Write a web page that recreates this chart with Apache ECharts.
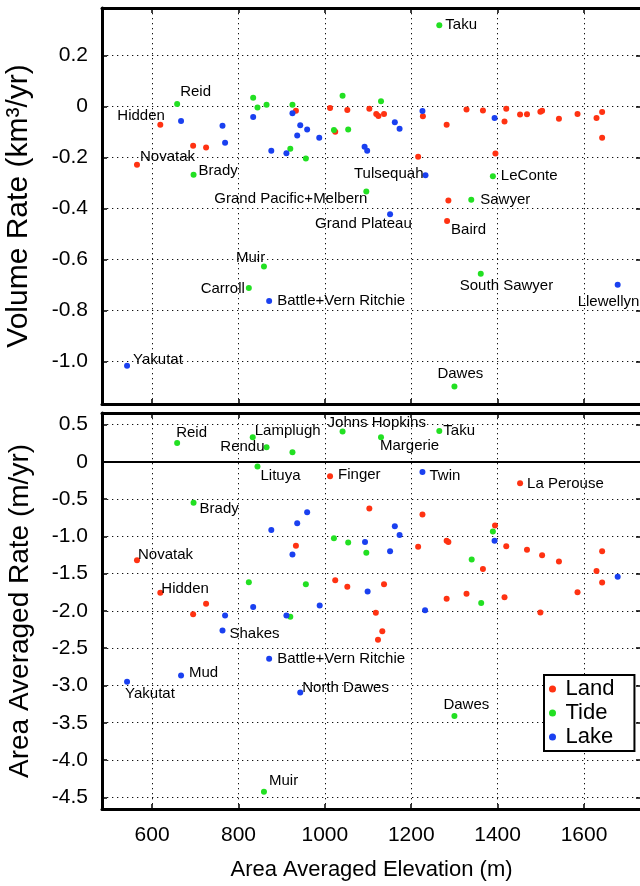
<!DOCTYPE html>
<html><head><meta charset="utf-8">
<script src="https://cdn.jsdelivr.net/npm/echarts@6/dist/echarts.min.js"></script>
<style>html,body{margin:0;padding:0;background:#fff}#c{width:640px;height:886px}</style>
</head><body><div id="c"></div>
<script>
// ---------- tick values ----------
const xTicks = [600, 800, 1000, 1200, 1400, 1600];
const volTicks = [-1.0, -0.8, -0.6, -0.4, -0.2, 0, 0.2];
const rateTicks = [-4.5, -4.0, -3.5, -3.0, -2.5, -2.0, -1.5, -1.0, -0.5, 0, 0.5];
const categories = ['Land', 'Tide', 'Lake'];

// ---------- top panel: volume rate (km3/yr) ----------
const volLandElev = [565, 619, 695, 725, 933, 1012, 1024, 1052, 1103, 1119, 1124, 1137, 1216, 1227, 1282, 1283, 1286, 1328, 1366, 1395, 1416, 1420, 1452, 1468, 1499, 1503, 1542, 1585, 1629, 1642, 1642];
const volLandRate = [-0.228, -0.071, -0.153, -0.160, -0.016, -0.005, -0.098, -0.013, -0.008, -0.029, -0.037, -0.029, -0.196, -0.038, -0.071, -0.448, -0.368, -0.011, -0.015, -0.184, -0.058, -0.008, -0.031, -0.030, -0.020, -0.016, -0.047, -0.029, -0.044, -0.021, -0.122];
const volLandName = ['Novatak', 'Hidden', '', '', '', '', '', '', '', '', '', '', '', '', '', 'Baird', '', '', '', '', '', '', '', '', '', '', '', '', '', '', ''];

const volTideElev = [658, 696, 824, 834, 844, 859, 865, 920, 925, 956, 1021, 1041, 1054, 1096, 1130, 1265, 1300, 1339, 1361, 1389];
const volTideRate = [0.011, -0.267, -0.711, 0.035, -0.003, -0.627, 0.008, -0.165, 0.008, -0.203, -0.091, 0.043, -0.089, -0.333, 0.021, 0.319, -1.097, -0.365, -0.655, -0.273];
const volTideName = ['Reid', 'Brady', 'Carroll', '', '', 'Muir', '', '', '', '', '', '', '', 'Grand Pacific+Melbern', '', 'Taku', 'Dawes', 'Sawyer', 'South Sawyer', 'LeConte'];

const volLakeElev = [542, 667, 763, 769, 834, 871, 876, 911, 925, 936, 943, 959, 987, 1092, 1098, 1151, 1162, 1173, 1226, 1233, 1393, 1678];
const volLakeRate = [-1.016, -0.056, -0.075, -0.141, -0.040, -0.762, -0.173, -0.183, -0.026, -0.113, -0.073, -0.089, -0.122, -0.157, -0.173, -0.422, -0.061, -0.087, -0.017, -0.269, -0.044, -0.698];
const volLakeName = ['Yakutat', '', '', '', '', 'Battle+Vern Ritchie', '', '', '', '', '', '', '', '', '', 'Grand Plateau', '', '', '', 'Tulsequah', '', 'Llewellyn'];

// ---------- bottom panel: area averaged rate (m/yr) ----------
const rateLandElev = [565, 619, 695, 725, 933, 1012, 1024, 1052, 1103, 1118, 1123, 1133, 1137, 1216, 1226, 1282, 1286, 1282, 1328, 1366, 1394, 1416, 1420, 1452, 1468, 1499, 1503, 1542, 1585, 1629, 1642, 1642];
const rateLandRate = [-1.319, -1.757, -2.043, -1.905, -1.127, -0.193, -1.587, -1.677, -0.626, -2.025, -2.387, -2.271, -1.641, -1.140, -0.707, -1.060, -1.074, -1.838, -1.771, -1.436, -0.854, -1.815, -1.131, -0.287, -1.180, -2.020, -1.252, -1.337, -1.748, -1.466, -1.198, -1.618];
const rateLandName = ['Novatak', 'Hidden', '', '', '', 'Finger', '', '', '', '', '', '', '', '', '', '', '', '', '', '', '', '', '', 'La Perouse', '', '', '', '', '', '', '', ''];

const rateTideElev = [658, 696, 824, 833, 844, 859, 865, 920, 925, 956, 1021, 1041, 1054, 1096, 1130, 1265, 1300, 1340, 1362, 1389];
const rateTideRate = [0.253, -0.550, -1.614, 0.330, -0.063, -4.425, 0.196, -2.079, 0.129, -1.641, -1.024, 0.406, -1.082, -1.221, 0.330, 0.414, -3.410, -1.310, -1.895, -0.935];
const rateTideName = ['Reid', 'Brady', '', 'Lamplugh', 'Lituya', 'Muir', 'Rendu', '', '', '', '', 'Johns Hopkins', '', '', 'Margerie', 'Taku', 'Dawes', '', '', ''];

const rateLakeElev = [542, 667, 763, 769, 834, 871, 876, 911, 925, 936, 943, 959, 988, 1093, 1099, 1151, 1162, 1173, 1226, 1232, 1393, 1678];
const rateLakeRate = [-2.950, -2.865, -2.262, -2.060, -1.949, -2.642, -0.913, -2.060, -1.243, -0.823, -3.093, -0.676, -1.926, -1.074, -1.738, -1.198, -0.863, -0.980, -0.135, -1.990, -1.060, -1.543];
const rateLakeName = ['Yakutat', 'Mud', 'Shakes', '', '', 'Battle+Vern Ritchie', '', '', '', '', 'North Dawes', '', '', '', '', '', '', '', 'Twin', '', '', ''];

// ---------- styling ----------
const FONT = 'Liberation Sans, Arial, Helvetica, sans-serif';
const colors = { Land: '#ff3212', Tide: '#22e022', Lake: '#1a40f0' };
// label offsets: [dx, dy, align] relative to point centre (style only)
const volLabelPos = {
  'Novatak': [3, -8, 'left'], 'Hidden': [-43, -9, 'left'], 'Baird': [4, 9, 'left'],
  'Reid': [3, -12, 'left'], 'Brady': [5, -4, 'left'], 'Carroll': [-4, 1, 'right'],
  'Muir': [-28, -9, 'left'], 'Grand Pacific+Melbern': [1, 7, 'right'], 'Taku': [6, 0, 'left'],
  'Dawes': [-17, -13, 'left'], 'Sawyer': [9, 0, 'left'], 'South Sawyer': [-21, 12, 'left'],
  'LeConte': [8, 0, 'left'], 'Yakutat': [6, -6, 'left'], 'Battle+Vern Ritchie': [8, 0, 'left'],
  'Grand Plateau': [-75, 10, 'left'], 'Tulsequah': [-2, -1, 'right'], 'Llewellyn': [-40, 17, 'left']
};
const rateLabelPos = {
  'Novatak': [1, -5, 'left'], 'Hidden': [1, -4, 'left'], 'Finger': [8, -1, 'left'], 'La Perouse': [7, 1, 'left'],
  'Reid': [-1, -10, 'left'], 'Brady': [6, 6, 'left'], 'Lamplugh': [2, -6, 'left'], 'Lituya': [3, 9, 'left'],
  'Muir': [5, -11, 'left'], 'Rendu': [-2, 0, 'right'], 'Johns Hopkins': [-15, -9, 'left'], 'Margerie': [-1, 9, 'left'],
  'Taku': [4, 0, 'left'], 'Dawes': [-11, -11, 'left'], 'Yakutat': [-2, 12, 'left'], 'Mud': [8, -3, 'left'],
  'Shakes': [7, 3, 'left'], 'Battle+Vern Ritchie': [8, 0, 'left'], 'North Dawes': [2, -5, 'left'], 'Twin': [7, 4, 'left']
};

function buildData(xs, ys, names, pos) {
  return xs.map((x, i) => {
    const n = names[i];
    const item = { value: [x, ys[i]], name: n };
    if (n) {
      const p = pos[n];
      item.label = {
        show: true, formatter: n, position: 'inside', align: p[2], verticalAlign: 'middle',
        offset: [p[0], p[1]], color: '#000', fontSize: 15, fontFamily: FONT
      };
    }
    return item;
  });
}

const fmtY = v => (Math.abs(v) < 1e-9 ? '0' : v.toFixed(1));
const fmtX = v => String(Math.round(v));
const gridLine = { show: true, lineStyle: { color: '#111', width: 1, type: [1.3, 3.7] } };
const axLine = { show: true, onZero: false, lineStyle: { color: '#000', width: 3 } };

function xAx(grid, position, showLabel) {
  return {
    type: 'value', gridIndex: grid, position: position, min: 484, max: 1732,
    axisLine: axLine,
    axisTick: { show: true, inside: true, length: 5, customValues: xTicks, lineStyle: { color: '#000', width: 1.5 } },
    axisLabel: { show: showLabel, customValues: xTicks, formatter: fmtX, margin: 16, fontSize: 21, color: '#000', fontFamily: FONT },
    splitLine: position === 'bottom' ? gridLine : { show: false },
    name: showLabel ? 'Area Averaged Elevation (m)' : '',
    nameLocation: 'middle', nameGap: 50,
    nameTextStyle: { fontSize: 22, color: '#000', fontFamily: FONT }
  };
}
function yAx(grid, position, min, max, ticks, name, titleSize) {
  const left = position === 'left';
  return {
    type: 'value', gridIndex: grid, position: position, min: min, max: max,
    axisLine: axLine,
    axisTick: { show: true, inside: true, length: 5, customValues: ticks, lineStyle: { color: '#000', width: 1.5 } },
    axisLabel: { show: left, customValues: ticks, formatter: fmtY, margin: 14, fontSize: 21, color: '#000', fontFamily: FONT },
    splitLine: left ? gridLine : { show: false },
    name: left ? name : '', nameLocation: 'middle', nameGap: 68, nameRotate: 90,
    nameTextStyle: { fontSize: titleSize || 26, color: '#000', fontFamily: FONT }
  };
}

function sc(name, x, y, data) {
  return {
    type: 'scatter', name: name, xAxisIndex: x, yAxisIndex: y, data: data,
    symbol: 'circle', symbolSize: 6, itemStyle: { color: colors[name], opacity: 1 },
    emphasis: { disabled: true }, z: 3
  };
}

const series = [
  sc('Land', 0, 0, buildData(volLandElev, volLandRate, volLandName, volLabelPos)),
  sc('Tide', 0, 0, buildData(volTideElev, volTideRate, volTideName, volLabelPos)),
  sc('Lake', 0, 0, buildData(volLakeElev, volLakeRate, volLakeName, volLabelPos)),
  sc('Land', 2, 2, buildData(rateLandElev, rateLandRate, rateLandName, rateLabelPos)),
  sc('Tide', 2, 2, buildData(rateTideElev, rateTideRate, rateTideName, rateLabelPos)),
  sc('Lake', 2, 2, buildData(rateLakeElev, rateLakeRate, rateLakeName, rateLabelPos))
];
series[3].markLine = {
  silent: true, symbol: 'none', label: { show: false }, animation: false,
  lineStyle: { color: '#000', type: 'solid', width: 2 }, data: [{ yAxis: 0 }]
};

const chart = echarts.init(document.getElementById('c'), null, { renderer: 'canvas' });
chart.setOption({
  animation: false,
  backgroundColor: '#fff',
  grid: [
    { left: 102, top: 8, width: 539, height: 396, containLabel: false, outerBoundsMode: 'none' },
    { left: 102, top: 413, width: 539, height: 396, containLabel: false, outerBoundsMode: 'none' }
  ],
  xAxis: [xAx(0, 'bottom', false), xAx(0, 'top', false), xAx(1, 'bottom', true), xAx(1, 'top', false)],
  yAxis: [
    yAx(0, 'left', -1.166, 0.387, volTicks, 'Volume Rate (km³/yr)', 30),
    yAx(0, 'right', -1.166, 0.387, volTicks, ''),
    yAx(1, 'left', -4.657, 0.655, rateTicks, 'Area Averaged Rate (m/yr)', 28),
    yAx(1, 'right', -4.657, 0.655, rateTicks, '')
  ],
  legend: {
    data: categories, orient: 'vertical', left: 544, top: 675,
    icon: 'circle', itemWidth: 16, itemHeight: 7, itemGap: 0,
    padding: [2, 20, 2, 5], borderColor: '#000', borderWidth: 2, backgroundColor: '#fff',
    textStyle: { fontSize: 22, lineHeight: 24, color: '#000', fontFamily: FONT },
    selectedMode: false
  },
  series: series
});
</script></body></html>
